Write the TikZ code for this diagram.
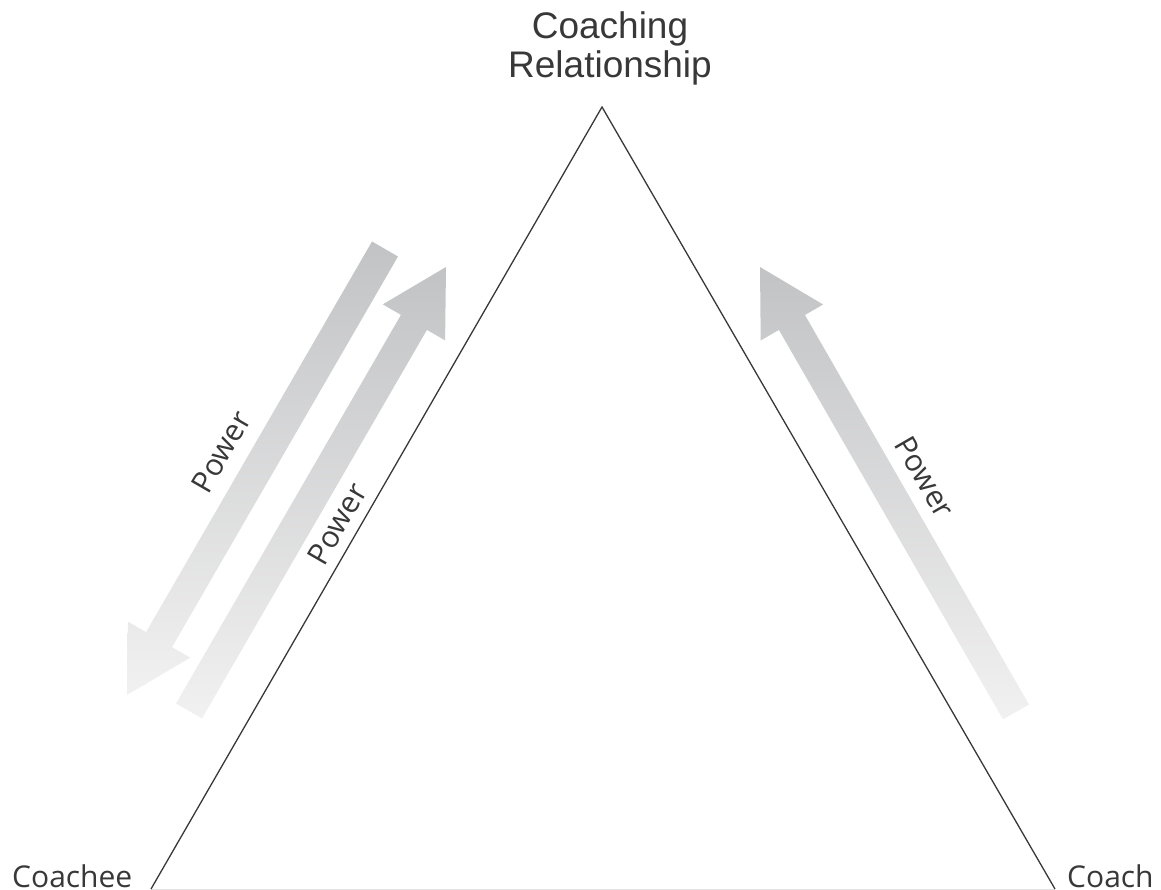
\documentclass[tikz,border=0pt]{standalone}
\usepackage{fontspec}
\setmainfont{Liberation Sans}
\newfontfamily\labelfont{Open Sans}
\usetikzlibrary{calc}
\definecolor{inkgray}{HTML}{383838}
\definecolor{arrowdark}{HTML}{C2C3C5}
\definecolor{arrowlight}{HTML}{F1F1F1}
\definecolor{baseline}{HTML}{E2E2E2}
\tikzset{
  titletext/.style={inner sep=0pt, align=center, text=inkgray, font=\fontsize{37}{39}\selectfont},
  cornertext/.style={inner sep=0pt, text=inkgray, font=\labelfont\fontsize{30}{34}\selectfont},
  powertext/.style={inner sep=0pt, text=inkgray, font=\labelfont\fontsize{30}{34}\selectfont},
  edge/.style={draw=inkgray, line width=1.3pt},
  fatarrow/.style={top color=arrowdark, bottom color=arrowlight, draw=none}
}
\newcommand{\fatarrowpath}[2]{%
  \shade[fatarrow]
    ($(#1)!15pt!90:(#2)$) --
    ($($(#2)!64pt!(#1)$)!15pt!-90:(#1)$) --
    ($($(#2)!64pt!(#1)$)!36pt!-90:(#1)$) --
    (#2) --
    ($($(#2)!64pt!(#1)$)!36pt!90:(#1)$) --
    ($($(#2)!64pt!(#1)$)!15pt!90:(#1)$) --
    ($(#1)!15pt!-90:(#2)$) -- cycle;}
\begin{document}
\begin{tikzpicture}[x=1pt,y=-1pt]
\useasboundingbox (0,0) rectangle (1161,890);
% triangle corners
\coordinate (apex) at (602,107);
\coordinate (bl) at (151,889);
\coordinate (br) at (1055,889);
% arrows
\coordinate (aoT) at (385,249);
\coordinate (aoH) at (127,695);
\coordinate (aiT) at (189,711);
\coordinate (aiH) at (446,267);
\coordinate (arT) at (1016,712);
\coordinate (arH) at (760,267);
\fatarrowpath{aoT}{aoH}
\fatarrowpath{aiT}{aiH}
\fatarrowpath{arT}{arH}
% triangle
\draw[draw=baseline, line width=1pt] (bl) -- (br);
\draw[edge] (bl) -- (apex) -- (br);
% labels
\node[titletext, anchor=north] (title) at (610,11) {Coaching\\Relationship};
\node[cornertext, anchor=base west] (coachee) at (12,887) {Coachee};
\node[cornertext, anchor=base west] (coach) at (1067,887) {Coach};
\node[powertext, rotate=60] (p1) at (221,452) {Power};
\node[powertext, rotate=60] (p2) at (337,524) {Power};
\node[powertext, rotate=-60] (p3) at (925,477) {Power};
\end{tikzpicture}
\end{document}
